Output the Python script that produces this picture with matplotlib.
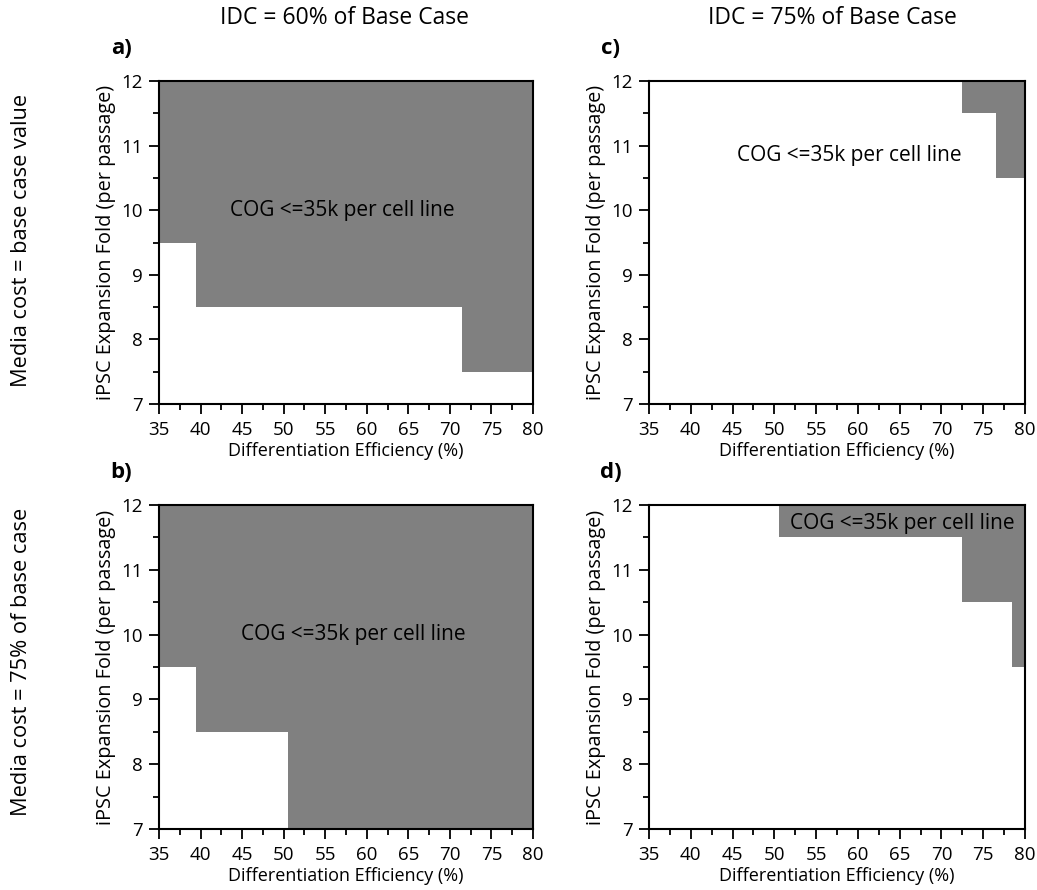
import numpy as np
import matplotlib
matplotlib.use("Agg")
import matplotlib.pyplot as plt
from matplotlib.colors import ListedColormap
from matplotlib.ticker import MultipleLocator

plt.rcParams['font.family'] = ['Open Sans', 'DejaVu Sans']

# Data: grid of differentiation efficiency (%) and expansion fold
diff_eff = np.arange(35, 81, 1)
exp_fold = np.arange(7, 13, 1)

# Minimum expansion fold meeting COG <= 35k, starting at given efficiency
# (13 = not reached within range)
a_x_start = [35, 40, 72]
a_min_fold = [10, 9, 8]
b_x_start = [35, 40, 51]
b_min_fold = [10, 9, 7]
c_x_start = [35, 73, 77]
c_min_fold = [13, 12, 11]
d_x_start = [35, 51, 73, 79]
d_min_fold = [13, 12, 11, 10]

col_titles = ["IDC = 60% of Base Case", "IDC = 75% of Base Case"]
row_titles = ["Media cost = base case value", "Media cost = 75% of base case"]
panel_labels = ["a)", "c)", "b)", "d)"]
annot = "COG <=35k per cell line"
annot_pos = [(57, 10.0), (59, 10.85), (58.4, 10.0), (65.3, 11.72)]

panels = [(a_x_start, a_min_fold), (c_x_start, c_min_fold),
          (b_x_start, b_min_fold), (d_x_start, d_min_fold)]


def feasible(x_start, min_fold):
    thr = np.array(min_fold)[np.searchsorted(x_start, diff_eff, side='right') - 1]
    return (exp_fold[:, None] >= thr[None, :]).astype(float)


W, H = 1037, 890
fig = plt.figure(figsize=(W / 100, H / 100), dpi=100)

lefts = [159, 649]
rights = [533, 1025]
tops = [81, 505]
bottoms = [404, 829]
cmap = ListedColormap(['white', '#808080'])

xe = np.append(diff_eff - 0.5, diff_eff[-1] + 0.5)
ye = np.append(exp_fold - 0.5, exp_fold[-1] + 0.5)

for idx, (xs, mf) in enumerate(panels):
    r, c = divmod(idx, 2)
    l, rr = lefts[c], rights[c]
    t, b = tops[r], bottoms[r]
    ax = fig.add_axes([l / W, 1 - b / H, (rr - l) / W, (b - t) / H])
    Z = feasible(xs, mf)
    ax.pcolormesh(xe, ye, Z, cmap=cmap, vmin=0, vmax=1, shading='flat')
    ax.set_xlim(35, 80)
    ax.set_ylim(7, 12)
    ax.xaxis.set_major_locator(MultipleLocator(5))
    ax.xaxis.set_minor_locator(MultipleLocator(2.5))
    ax.yaxis.set_major_locator(MultipleLocator(1))
    ax.yaxis.set_minor_locator(MultipleLocator(0.5))
    ax.tick_params(which='both', direction='out', top=False, right=False,
                   width=1.3, labelsize=13.5)
    ax.tick_params(axis='x', which='both', pad=5.5)
    ax.tick_params(axis='y', which='both', pad=4.5)
    ax.tick_params(which='major', length=7)
    ax.tick_params(which='minor', length=4)
    for s in ax.spines.values():
        s.set_linewidth(1.5)
    ax.set_xlabel("Differentiation Efficiency (%)", fontsize=13, labelpad=2)
    ax.set_ylabel("iPSC Expansion Fold (per passage)", fontsize=14.3, labelpad=4)
    ax.text(annot_pos[idx][0], annot_pos[idx][1], annot, ha='center',
            va='center', fontsize=15)
    fig.text((l - 38) / W, 1 - (t - 33) / H, panel_labels[idx], fontsize=16,
             fontweight='bold', ha='center', va='center')

fig.text(345 / W, 1 - 18 / H, col_titles[0], fontsize=16.5, ha='center', va='center')
fig.text(832 / W, 1 - 18 / H, col_titles[1], fontsize=16.5, ha='center', va='center')
fig.text(22 / W, 1 - 240 / H, row_titles[0], fontsize=15.7, rotation=90,
         ha='center', va='center')
fig.text(22 / W, 1 - 662 / H, row_titles[1], fontsize=15.7, rotation=90,
         ha='center', va='center')

fig.savefig("out.png", dpi=100)
